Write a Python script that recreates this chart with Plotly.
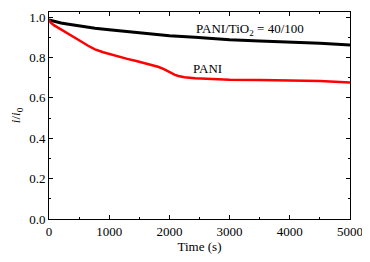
import plotly.graph_objects as go

time_black = [0, 100, 200, 300, 500, 764, 1000, 1300, 1595, 2000, 2425, 3000, 3500, 4000, 4500, 5000]
ratio_black = [0.985, 0.977, 0.971, 0.966, 0.956, 0.945, 0.937, 0.928, 0.919, 0.908, 0.900, 0.888, 0.882, 0.877, 0.870, 0.862]

time_red = [0, 30, 80, 150, 250, 350, 500, 650, 764, 900, 1000, 1150, 1300, 1450, 1595, 1700, 1810, 1900, 1970, 2040, 2093, 2150, 2250, 2425, 2700, 3000, 3500, 4000, 4500, 5000]
ratio_red = [0.985, 0.972, 0.960, 0.948, 0.930, 0.912, 0.885, 0.858, 0.840, 0.826, 0.817, 0.805, 0.793, 0.782, 0.772, 0.764, 0.754, 0.743, 0.732, 0.722, 0.714, 0.708, 0.702, 0.697, 0.693, 0.690, 0.688, 0.687, 0.683, 0.676]

x_ticks = [0, 1000, 2000, 3000, 4000, 5000]
y_ticks = [0.0, 0.2, 0.4, 0.6, 0.8, 1.0]
y_tick_labels = ["0.0", "0.2", "0.4", "0.6", "0.8", "1.0"]

font = "Liberation Serif"

fig = go.Figure()
fig.add_trace(go.Scatter(x=time_black, y=ratio_black, mode="lines",
                         line=dict(color="black", width=3), showlegend=False))
fig.add_trace(go.Scatter(x=time_red, y=ratio_red, mode="lines",
                         line=dict(color="#ff0000", width=2.5), showlegend=False))

axis_common = dict(showline=True, linecolor="black", linewidth=1, mirror="ticks",
                   ticks="inside", ticklen=4, tickcolor="black", showgrid=False, zeroline=False,
                   automargin=False,
                   tickfont=dict(family=font, size=13, color="black"))

fig.update_xaxes(range=[0, 5000], tickvals=x_ticks,
                 minor=dict(ticks="inside", ticklen=2, dtick=500, tickcolor="black"),
                 title=dict(text="Time (s)", font=dict(family=font, size=13, color="black"), standoff=1),
                 **axis_common)
fig.update_yaxes(range=[0, 1.025], tickvals=y_ticks, ticktext=y_tick_labels,
                 minor=dict(ticks="inside", ticklen=2, dtick=0.1, tickcolor="black"),
                 title=dict(text="<i>i</i>/<i>i</i><sub>0</sub>", font=dict(family=font, size=13, color="black"), standoff=8),
                 **axis_common)

fig.add_annotation(x=3340, y=0.94, text="PANI/TiO<sub>2</sub> = 40/100", showarrow=False,
                   font=dict(family=font, size=13, color="black"), xanchor="center", yanchor="middle")
fig.add_annotation(x=2625, y=0.747, text="PANI", showarrow=False,
                   font=dict(family=font, size=13, color="black"), xanchor="center", yanchor="middle")

fig.update_layout(width=362, height=254, margin=dict(l=41, r=20, t=4, b=43),
                  plot_bgcolor="white", paper_bgcolor="white")

fig.write_html("out.html")
